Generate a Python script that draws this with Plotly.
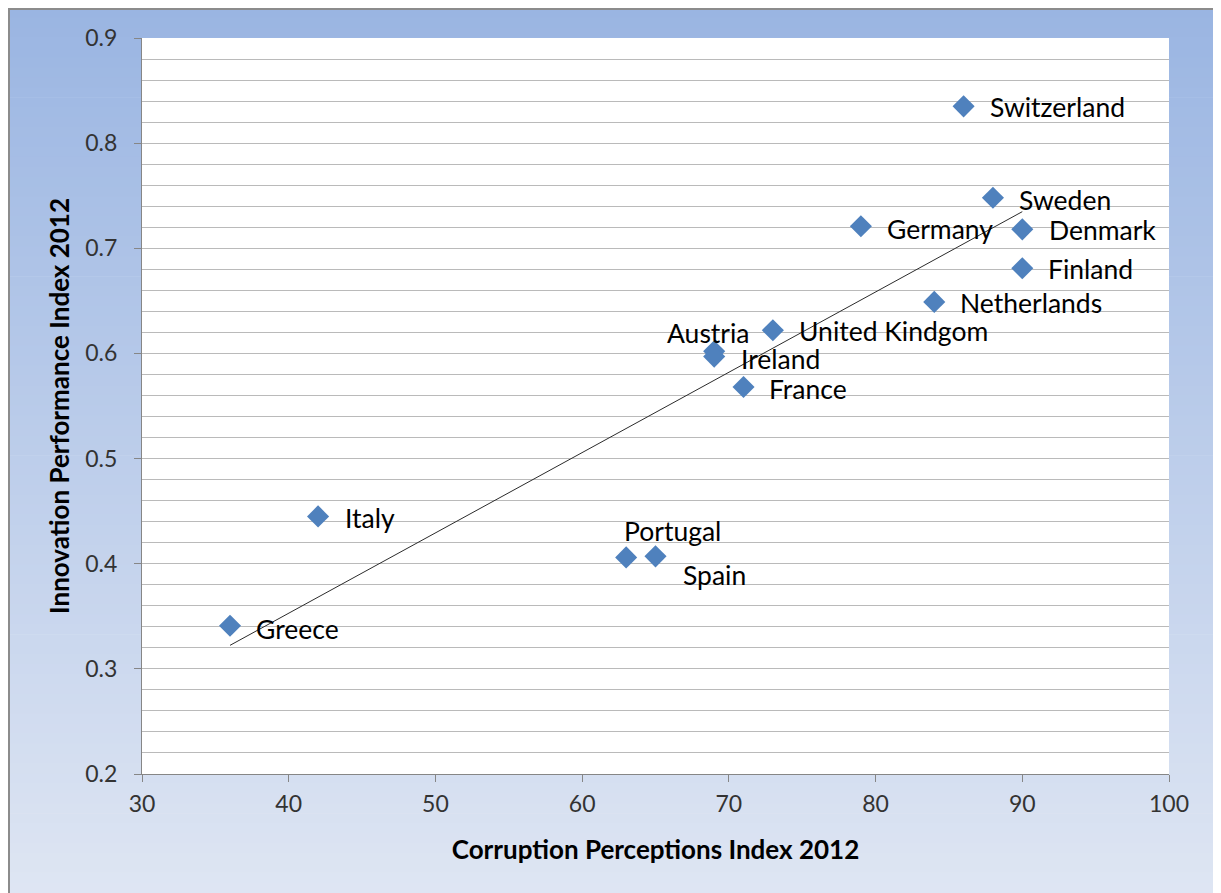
import numpy as np
import plotly.graph_objects as go

countries = ["Switzerland", "Sweden", "Germany", "Denmark", "Finland", "Netherlands",
             "United Kindgom", "Austria", "Ireland", "France", "Italy", "Portugal",
             "Spain", "Greece"]
cpi = [86, 88, 79, 90, 90, 84, 73, 69, 69, 71, 42, 63, 65, 36]
ipi = [0.835, 0.748, 0.721, 0.718, 0.681, 0.649, 0.622, 0.602, 0.597, 0.568,
       0.445, 0.406, 0.407, 0.341]

# label placement (style only): (xanchor, xshift, yshift)
label_pos = {
    "Switzerland": ("left", 24, -1),
    "Sweden": ("left", 24, -2),
    "Germany": ("left", 24, -3),
    "Denmark": ("left", 25, -1),
    "Finland": ("left", 24, -1),
    "Netherlands": ("left", 24, -1),
    "United Kindgom": ("left", 24, -1),
    "Austria": ("right", 38, 18),
    "Ireland": ("left", 25, -2),
    "France": ("left", 23, -2),
    "Italy": ("left", 25, -2),
    "Portugal": ("center", 46, 26),
    "Spain": ("left", 25, -19),
    "Greece": ("left", 24, -3),
}

FONT = "Lato"

# Linear trendline
slope, intercept = np.polyfit(cpi, ipi, 1)
tx = np.array([min(cpi), max(cpi)])
ty = slope * tx + intercept

fig = go.Figure()
fig.add_trace(go.Scatter(x=tx, y=ty, mode="lines",
                         line=dict(color="#2b2b2b", width=1), hoverinfo="skip",
                         showlegend=False))
fig.add_trace(go.Scatter(x=cpi, y=ipi, mode="markers",
                         marker=dict(symbol="diamond", size=17, color="#4F81BD",
                                     line=dict(width=0)),
                         text=countries, showlegend=False))

annotations = []
for c, x, y in zip(countries, cpi, ipi):
    xa, xs, ys = label_pos[c]
    annotations.append(dict(x=x, y=y, xref="x", yref="y", text=c, showarrow=False,
                            xanchor=xa, yanchor="middle", xshift=xs, yshift=ys,
                            font=dict(family=FONT, size=26.5, color="#000000")))

# page has an 8px body margin; figure coords are page coords minus 8
FW, FH = 1213, 885
L, R, T, B = 134, 1161, 30, 766
W, H = R - L, B - T
def px2x(px):
    return (px - L) / W
def py2y(py):
    return (B - py) / H

top_c = np.array([154, 181, 226])
bot_c = np.array([223, 230, 243])
shapes = []
n = 90
y_top_px, y_bot_px = 0, FH + 10
for i in range(n):
    p0 = y_top_px + (y_bot_px - y_top_px) * i / n
    p1 = y_top_px + (y_bot_px - y_top_px) * (i + 1) / n
    t = (i + 0.5) / n
    col = top_c + (bot_c - top_c) * t
    shapes.append(dict(type="rect", xref="paper", yref="paper",
                       x0=px2x(0), x1=px2x(1209), y0=py2y(p1) - 0.0005, y1=py2y(p0) + 0.0005,
                       fillcolor="rgb(%d,%d,%d)" % tuple(col.round().astype(int)),
                       line=dict(width=0), layer="below"))
shapes.append(dict(type="rect", xref="paper", yref="paper", x0=0, x1=1, y0=0, y1=1,
                   fillcolor="white", line=dict(width=0), layer="below"))
shapes.append(dict(type="rect", xref="paper", yref="paper",
                   x0=px2x(1), x1=px2x(1209), y0=py2y(FH + 10), y1=py2y(1),
                   fillcolor="rgba(0,0,0,0)", line=dict(color="#8c8c8c", width=2),
                   layer="below"))

fig.update_layout(
    width=FW, height=FH,
    margin=dict(l=L, r=FW - R, t=T, b=FH - B, autoexpand=False),
    paper_bgcolor="white", plot_bgcolor="white",
    shapes=shapes, annotations=annotations,
    font=dict(family=FONT, color="#404040"),
    xaxis=dict(range=[30, 100], dtick=10, showgrid=False, zeroline=False,
               showline=True, linecolor="#868686", linewidth=1,
               ticks="outside", ticklen=7, tickcolor="#868686",
               ticklabelstandoff=2,
               tickfont=dict(family=FONT, size=23, color="#333333"),
               title=dict(text="<b>Corruption Perceptions Index 2012</b>",
                          font=dict(family=FONT, size=26, color="#000000"), standoff=25),
               automargin=False, fixedrange=True),
    yaxis=dict(range=[0.2, 0.9], dtick=0.1, tickformat=".1f",
               showgrid=True, gridcolor="#bababa", gridwidth=1, zeroline=False,
               showline=True, linecolor="#868686", linewidth=1,
               ticks="outside", ticklen=7, tickcolor="#868686",
               ticklabelstandoff=12,
               minor=dict(dtick=0.02, showgrid=True, gridcolor="#bababa", gridwidth=1),
               tickfont=dict(family=FONT, size=23, color="#333333"),
               title=dict(text="<b>Innovation Performance Index 2012</b>",
                          font=dict(family=FONT, size=26, color="#000000"), standoff=8),
               automargin=False, fixedrange=True),
)

fig.write_html("out.html")
